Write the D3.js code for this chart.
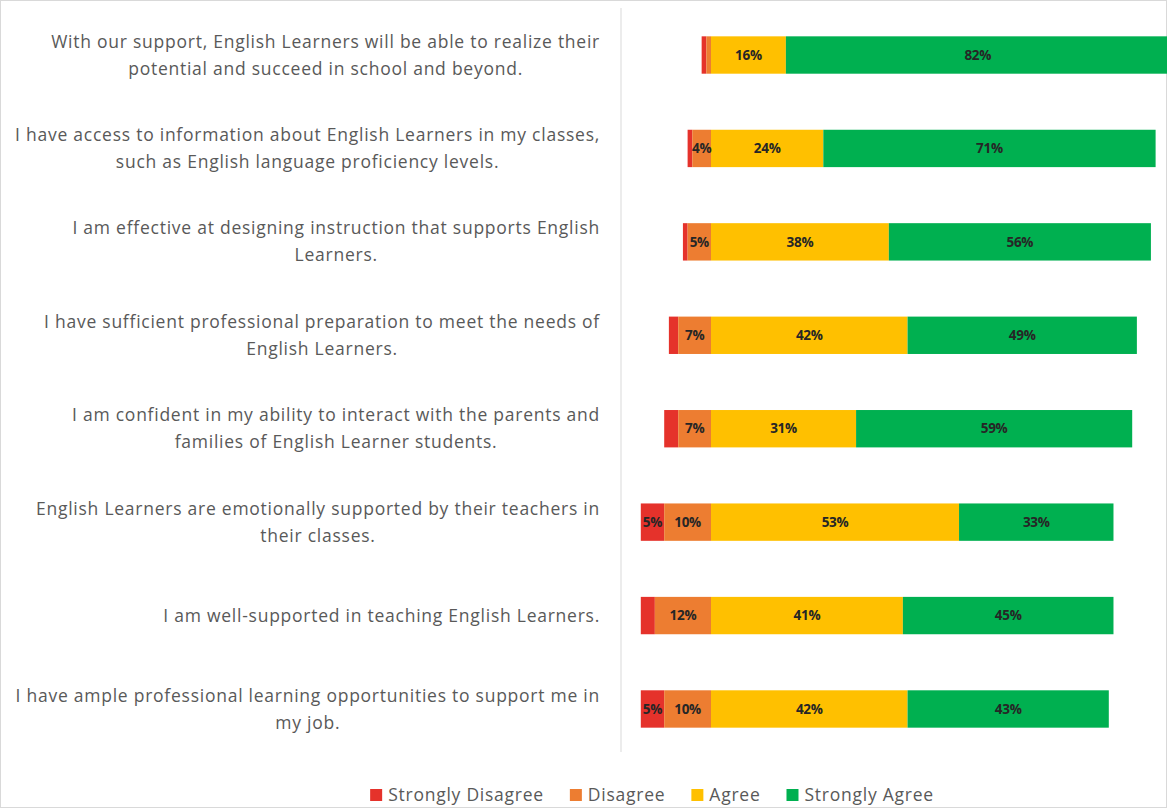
<!DOCTYPE html>
<html>
<head>
<meta charset="utf-8">
<script src="https://cdn.jsdelivr.net/npm/d3@7"></script>
<style>
  body { margin: 0; background: #fff; }
  svg { display: block; }
</style>
</head>
<body>
<svg width="1167" height="808"></svg>
<script>
// statements, one per row, split into the lines shown in the chart
const statements = [
    ["With our support, English Learners will be able to realize their", "potential and succeed in school and beyond."],
    ["I have access to information about English Learners in my classes,", "such as English language proficiency levels."],
    ["I am effective at designing instruction that supports English", "Learners."],
    ["I have sufficient professional preparation to meet the needs of", "English Learners."],
    ["I am confident in my ability to interact with the parents and", "families of English Learner students."],
    ["English Learners are emotionally supported by their teachers in", "their classes."],
    ["I am well-supported in teaching English Learners."],
    ["I have ample professional learning opportunities to support me in", "my job."]
];

const stronglyDisagree = [1, 1, 1, 2, 3, 5, 3, 5];
const disagree         = [1, 4, 5, 7, 7, 10, 12, 10];
const agree            = [16, 24, 38, 42, 31, 53, 41, 42];
const stronglyAgree    = [82, 71, 56, 49, 59, 33, 45, 43];

const seriesNames = ["Strongly Disagree", "Disagree", "Agree", "Strongly Agree"];
const seriesColors = ["#E5322B", "#ED7D31", "#FFC000", "#00B050"];

let svg = d3.select("svg"),
    width = +svg.attr("width"),
    height = +svg.attr("height");

// light chart border
svg.append("rect")
    .attr("x", 0.5).attr("y", 0.5)
    .attr("width", width - 1).attr("height", height - 1)
    .attr("fill", "none").attr("stroke", "#d9d9d9");

let x = d3.scaleLinear()
    .domain([-20, 100])
    .range([617.4, 1179]);

let y = d3.scaleBand()
    .domain(d3.range(statements.length))
    .range([8.3, 755.7])
    .paddingInner(0.6)
    .paddingOuter(0.3);

// build segments: disagree side goes left of zero, agree side right
let rows = statements.map(function(s, i) {
    let segs = [];
    let left = -(stronglyDisagree[i] + disagree[i]);
    segs.push({ k: 0, v: stronglyDisagree[i], x0: left, x1: left + stronglyDisagree[i] });
    segs.push({ k: 1, v: disagree[i], x0: left + stronglyDisagree[i], x1: 0 });
    segs.push({ k: 2, v: agree[i], x0: 0, x1: agree[i] });
    segs.push({ k: 3, v: stronglyAgree[i], x0: agree[i], x1: agree[i] + stronglyAgree[i] });
    return { i: i, segs: segs };
});

// vertical category axis line
svg.append("line")
    .attr("x1", 621).attr("x2", 621)
    .attr("y1", 8).attr("y2", 752)
    .attr("stroke", "#d9d9d9").attr("stroke-width", 1);

let g = svg.append("g");

let row = g.selectAll("g.row")
    .data(rows)
    .enter().append("g")
    .attr("class", "row")
    .attr("transform", function(d) { return "translate(0," + y(d.i) + ")"; });

row.selectAll("rect")
    .data(function(d) { return d.segs; })
    .enter().append("rect")
    .attr("x", function(d) { return x(d.x0); })
    .attr("width", function(d) { return x(d.x1) - x(d.x0); })
    .attr("y", 0)
    .attr("height", y.bandwidth())
    .attr("fill", function(d) { return seriesColors[d.k]; });

row.selectAll("text")
    .data(function(d) { return d.segs.filter(function(s) { return s.v >= 4; }); })
    .enter().append("text")
    .attr("x", function(d) { return (x(d.x0) + x(d.x1)) / 2; })
    .attr("y", y.bandwidth() / 2)
    .attr("dy", "0.35em")
    .attr("text-anchor", "middle")
    .attr("font-family", "'Open Sans', Lato, sans-serif")
    .attr("font-weight", "bold")
    .attr("font-size", 13.5)
    .attr("letter-spacing", "-0.3")
    .attr("fill", "#262626")
    .text(function(d) { return d.v + "%"; });

// category labels: lines centred on each other, block right-aligned at 600
let labelRight = 600, lineHeight = 27;
let labels = svg.append("g")
    .attr("font-family", "'Open Sans', Lato, sans-serif")
    .attr("font-size", 17.5)
    .attr("letter-spacing", "0.75")
    .attr("fill", "#595959");

statements.forEach(function(lines, i) {
    let cy = y(i) + y.bandwidth() / 2;
    let t = labels.append("text").attr("text-anchor", "middle");
    let spans = lines.map(function(line, j) {
        return t.append("tspan")
            .attr("y", cy + (j - (lines.length - 1) / 2) * lineHeight)
            .attr("dy", "0.35em")
            .text(line);
    });
    let maxW = d3.max(spans, function(s) { return s.node().getComputedTextLength(); });
    spans.forEach(function(s) { s.attr("x", labelRight - maxW / 2); });
});

// legend
let legend = svg.append("g")
    .attr("font-family", "'Open Sans', Lato, sans-serif")
    .attr("font-size", 17.5)
    .attr("letter-spacing", "0.75")
    .attr("fill", "#595959");

let lx = 0;
seriesNames.forEach(function(name, k) {
    let item = legend.append("g");
    item.append("rect")
        .attr("x", 0).attr("y", -6)
        .attr("width", 12).attr("height", 12)
        .attr("fill", seriesColors[k]);
    let tx = item.append("text")
        .attr("x", 18).attr("dy", "0.35em")
        .text(name);
    item.attr("transform", "translate(" + lx + ",0)");
    lx += 18 + tx.node().getComputedTextLength() + 26;
});
let legendW = lx - 26;
legend.attr("transform", "translate(" + (652 - legendW / 2) + ",795)");
</script>
</body>
</html>
